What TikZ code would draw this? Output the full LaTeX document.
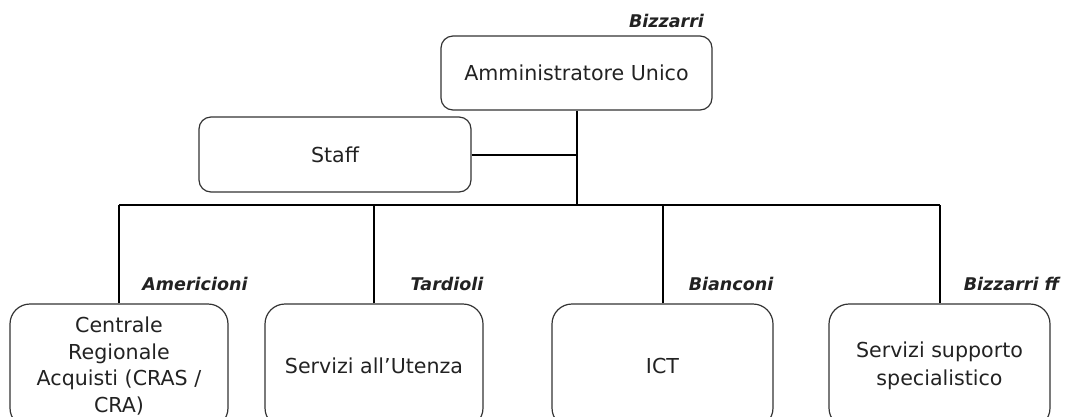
\documentclass[tikz,border=0pt]{standalone}
\usepackage{fontspec}
\setmainfont{DejaVu Sans}
\definecolor{boxline}{HTML}{333333}
\definecolor{txt}{HTML}{222222}
\tikzset{
  unit/.style={draw=boxline, line width=1.2pt, rounded corners=12pt, inner sep=0pt,
    align=center, text=txt, font=\fontsize{20.6}{27.5}\selectfont},
  lowunit/.style={unit, rounded corners=20pt, minimum height=124pt},
  head/.style={inner sep=0pt, text=txt, font=\fontsize{17.5}{20}\selectfont\bfseries\itshape},
  wire/.style={line width=2pt, black}
}
\begin{document}
\begin{tikzpicture}[x=1pt,y=-1pt]
\useasboundingbox (0,0) rectangle (1073,416);
\clip (0,0) rectangle (1073,416);
\node[unit, minimum width=271pt, minimum height=74pt] (top) at (576.5,73) {Amministratore Unico};
\node[unit, minimum width=272pt, minimum height=75pt] (staff) at (335,154.5) {Staff};
\node[lowunit, minimum width=218pt, font=\fontsize{20.6}{26.8}\selectfont] (b1) at (119,366) {Centrale\\Regionale\\Acquisti (CRAS /\\CRA)};
\node[lowunit, minimum width=218pt] (b2) at (374,366) {Servizi all’Utenza};
\node[lowunit, minimum width=221pt] (b3) at (662.5,366) {ICT};
\node[lowunit, minimum width=221pt] (b4) at (939.5,366) {Servizi supporto\\specialistico};
\coordinate (bus) at (0,205);
\node[head] (h0) at (666.5,21) {Bizzarri};
\node[head] (h1) at (195,284) {Americioni};
\node[head] (h2) at (447,284) {Tardioli};
\node[head] (h3) at (731,284) {Bianconi};
\node[head] (h4) at (1011.5,284) {Bizzarri ff};
\draw[wire] (top.south) -- (top.south |- bus);
\draw[wire] (staff.east) -- (staff.east -| top.south);
\draw[wire] (b1.north |- bus) -- (b4.north |- bus);
\draw[wire] (b1.north) -- (b1.north |- bus);
\draw[wire] (b2.north) -- (b2.north |- bus);
\draw[wire] (b3.north) -- (b3.north |- bus);
\draw[wire] (b4.north) -- (b4.north |- bus);
\end{tikzpicture}
\end{document}
